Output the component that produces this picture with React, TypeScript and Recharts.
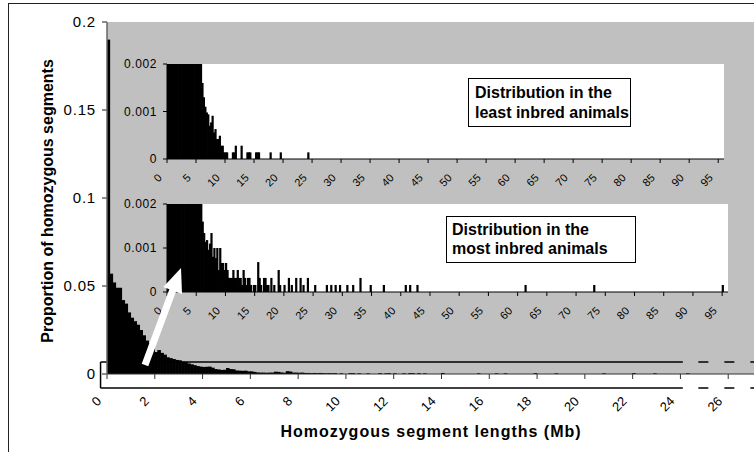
import React from 'react';
import { BarChart, Bar, XAxis, YAxis, CartesianGrid, ReferenceLine } from 'recharts';

// all animals: bin start (Mb) and proportion, bins of 0.125 Mb
const allLengths: number[] = [
  0, 0.125, 0.25, 0.375, 0.5, 0.625, 0.75, 0.875,
  1, 1.125, 1.25, 1.375, 1.5, 1.625, 1.75, 1.875,
  2, 2.125, 2.25, 2.375, 2.5, 2.625, 2.75, 2.875,
  3, 3.125, 3.25, 3.375, 3.5, 3.625, 3.75, 3.875,
  4, 4.125, 4.25, 4.375, 4.5, 4.625, 4.75, 4.875,
  5, 5.125, 5.25, 5.375, 5.5, 5.625, 5.75, 5.875,
  6, 6.125, 6.25, 6.375, 6.5, 6.625, 6.75, 6.875,
  7, 7.125, 7.25, 7.375, 7.5, 7.625, 7.75, 7.875,
  8, 8.125, 8.25, 8.375, 8.5, 8.625, 8.75, 8.875,
  9, 9.125, 9.25, 9.375, 9.5, 9.75,
  10.125, 10.25, 10.5, 10.875, 11.375, 11.625, 11.75, 12,
  12.375, 12.625, 12.75, 13, 13.25, 14, 15.5, 16.25,
  16.625, 17.875, 18.75, 20.75, 22, 22.875, 24.25,
];
const allProportions: number[] = [
  0.19, 0.057, 0.052, 0.049, 0.049, 0.042, 0.04, 0.035,
  0.032, 0.03, 0.028, 0.025, 0.022, 0.019, 0.0175, 0.0145,
  0.0125, 0.0136, 0.012, 0.011, 0.0095, 0.009, 0.0085, 0.008,
  0.0078, 0.007, 0.0068, 0.006, 0.0055, 0.005, 0.0045, 0.0042,
  0.004, 0.0041, 0.0042, 0.0036, 0.0028, 0.0026, 0.0023, 0.0024,
  0.0034, 0.0028, 0.0027, 0.002, 0.0019, 0.0018, 0.0019, 0.0015,
  0.0015, 0.0012, 0.0009, 0.0008, 0.0008, 0.0007, 0.0008, 0.0008,
  0.0013, 0.0012, 0.0009, 0.0007, 0.0016, 0.0014, 0.0008, 0.0008,
  0.0007, 0.0008, 0.0006, 0.0006, 0.0005, 0.0006, 0.0005, 0.0006,
  0.0005, 0.0004, 0.0005, 0.0004, 0.0005, 0.0004,
  0.0005, 0.0005, 0.0004, 0.0004, 0.0005, 0.0004, 0.0005, 0.0004,
  0.0004, 0.0005, 0.0005, 0.0005, 0.0004, 0.0006, 0.0004, 0.0004,
  0.0004, 0.0005, 0.0004, 0.0004, 0.0005, 0.0004, 0.0004,
];

// least inbred animals, bins of 0.25 Mb
const leastLengths: number[] = [
  0, 0.25, 0.5, 0.75, 1, 1.25, 1.5, 1.75, 2, 2.25, 2.5, 2.75,
  3, 3.25, 3.5, 3.75, 4, 4.25, 4.5, 4.75, 5, 5.25, 5.5, 5.75,
  6, 6.25, 6.5, 6.75, 7, 7.25, 7.5, 7.75, 8, 8.25, 8.5, 8.75,
  9, 9.25, 9.5, 9.75, 10, 10.25, 11.25, 11.5, 11.75, 12.75,
  13.75, 14, 14.25, 15.25, 15.5, 15.75, 17.75, 19.5, 24.25,
];
const leastProportions: number[] = [
  0.16, 0.045, 0.04, 0.034, 0.028, 0.023, 0.019, 0.016, 0.013, 0.011, 0.0095, 0.0082,
  0.007, 0.0062, 0.0053, 0.0047, 0.0041, 0.0036, 0.0032, 0.0029, 0.0026, 0.0024, 0.0022, 0.0021,
  0.0016, 0.0013, 0.0011, 0.00098, 0.00094, 0.0007, 0.00077, 0.00091, 0.00056, 0.00063, 0.00042, 0.00042,
  0.00049, 0.00028, 0.00028, 0.00014, 0.00014, 0.00014, 0.00014, 0.00014, 0.00028, 0.00028,
  0.00014, 0.00014, 0.00014, 0.00014, 0.00014, 0.00014, 0.00014, 0.00014, 0.00014,
];

// most inbred animals, bins of 0.25 Mb
const mostLengths: number[] = [
  0, 0.25, 0.5, 0.75, 1, 1.25, 1.5, 1.75, 2, 2.25, 2.5, 2.75,
  3, 3.25, 3.5, 3.75, 4, 4.25, 4.5, 4.75, 5, 5.25, 5.5, 5.75,
  6, 6.25, 6.5, 6.75, 7, 7.25, 7.5, 7.75, 8, 8.25, 8.5, 8.75,
  9, 9.25, 9.5, 9.75, 10, 10.25, 10.5, 10.75, 11, 11.25, 11.5, 11.75,
  12, 12.25, 12.5, 12.75, 13, 13.25, 13.5, 13.75, 14, 14.25, 14.75, 15,
  15.5, 15.75, 16, 16.5, 16.75, 17, 17.25, 17.75, 18.25, 19, 19.25, 20,
  20.75, 21.25, 22, 22.75, 23.25, 24, 25.25, 27.25, 28, 28.75, 29.5, 30.75,
  31.75, 33, 34.75, 37, 40.75, 41.5, 42.75, 61.25, 73, 95,
];
const mostProportions: number[] = [
  0.14, 0.05, 0.045, 0.04, 0.034, 0.029, 0.025, 0.021, 0.018, 0.015, 0.013, 0.011,
  0.0095, 0.0083, 0.0072, 0.0063, 0.0055, 0.0048, 0.0042, 0.0037, 0.0032, 0.0028, 0.0024, 0.0021,
  0.0016, 0.00134, 0.00114, 0.00118, 0.00096, 0.0011, 0.00134, 0.0008, 0.001, 0.00077, 0.001, 0.0005,
  0.001, 0.00066, 0.00066, 0.0005, 0.00066, 0.0005, 0.00032, 0.00032, 0.00032, 0.0005, 0.00032, 0.00032,
  0.0005, 0.00032, 0.00032, 0.00016, 0.0005, 0.00032, 0.00016, 0.00032, 0.00032, 0.00016, 0.00016, 0.00016,
  0.00068, 0.00032, 0.00016, 0.00032, 0.00032, 0.00016, 0.00016, 0.00032, 0.00016, 0.0005, 0.00016, 0.00016,
  0.00032, 0.00016, 0.00032, 0.00032, 0.00016, 0.00032, 0.00016, 0.00016, 0.00016, 0.00016, 0.00016, 0.00016,
  0.00016, 0.00032, 0.00016, 0.00016, 0.00016, 0.00016, 0.00016, 0.00016, 0.00016, 0.00016,
];

const mainTicksX = [0, 2, 4, 6, 8, 10, 12, 14, 16, 18, 20, 22, 24, 26];
const mainTicksY = [0, 0.05, 0.1, 0.15, 0.2];
const insetTicksX = [0, 5, 10, 15, 20, 25, 30, 35, 40, 45, 50, 55, 60, 65, 70, 75, 80, 85, 90, 95];
const insetTicksY = [0, 0.001, 0.002];

const MAIN_BIN = 0.125;
const INSET_BIN = 0.25;

const toRows = (starts: number[], values: number[], bin: number) =>
  starts.map((s, i) => ({ mid: s + bin / 2, value: values[i] }));

const mainData = toRows(allLengths, allProportions, MAIN_BIN);
const leastData = toRows(leastLengths, leastProportions, INSET_BIN);
const mostData = toRows(mostLengths, mostProportions, INSET_BIN);

const FONT = '"Liberation Sans", Arial, sans-serif';

// histogram bars: widen slightly so neighbouring bins touch
const HistBar = (props: any) => {
  const { x, y, width, height, fill } = props;
  if (!height || height <= 0) return null;
  return <rect x={x - 0.45} y={y} width={width + 0.9} height={height} fill={fill} />;
};

const MainXTick = (props: any) => {
  const { x, y, payload } = props;
  const ax = x - 5;
  const ay = y + 21;
  return (
    <text x={ax} y={ay} transform={`rotate(-45 ${ax} ${ay})`} textAnchor="end" fontSize={13} fill="#000">
      {payload.value}
    </text>
  );
};

const InsetXTick = (props: any) => {
  const { x, y, payload } = props;
  const ax = x - 4.5;
  const ay = y + 13.5;
  return (
    <text x={ax} y={ay} transform={`rotate(-45 ${ax} ${ay})`} textAnchor="end" fontSize={11} fill="#000">
      {payload.value}
    </text>
  );
};

const renderYTitle = (props: any) => {
  const vb = props.viewBox || { x: 47, y: 22, width: 60, height: 352 };
  const tx = vb.x + 6;
  const ty = vb.y + vb.height / 2 + 3;
  return (
    <text x={tx} y={ty} transform={`rotate(-90 ${tx} ${ty})`} textAnchor="middle" fontSize={16} fontWeight="bold" fill="#000">
      Proportion of homozygous segments
    </text>
  );
};

const renderXTitle = (props: any) => {
  const vb = props.viewBox || { x: 107, y: 374, width: 669, height: 78 };
  return (
    <text x={vb.x + 324} y={vb.y + 63} textAnchor="middle" fontSize={16} fontWeight="bold" letterSpacing={1} fill="#000">
      Homozygous segment lengths (Mb)
    </text>
  );
};

// zoom box drawn in data units of the main chart
const BOX_TOP = 0.0068;
const BOX_BOTTOM = -0.008;
const BOX_LEFT = -0.27;
const BOX_SOLID_END = 24.1;
const BOX_DASH_START = 24.75;
const BOX_DASH_END = 28;

const Inset = ({ data, left, top, width, plotHeight }: any) => (
  <div style={{ position: 'absolute', left, top }}>
    <BarChart
      width={width}
      height={24 + plotHeight + 40}
      data={data}
      margin={{ top: 24, right: 0, left: 0, bottom: 0 }}
      style={{ fontFamily: FONT }}
    >
      <CartesianGrid fill="#ffffff" horizontal={false} vertical={false} />
      <XAxis
        type="number"
        dataKey="mid"
        domain={[0, 96]}
        ticks={insetTicksX}
        allowDataOverflow
        height={40}
        tickSize={4}
        tick={<InsetXTick />}
        interval={0}
        stroke="#000"
      />
      <YAxis
        type="number"
        domain={[0, 0.002]}
        ticks={insetTicksY}
        allowDataOverflow
        width={67}
        tickSize={4}
        tickMargin={6}
        tick={{ fontSize: 12, fill: '#000', letterSpacing: 0.6 }}
        stroke="#000"
      />
      <Bar dataKey="value" fill="#000" barSize={2} shape={<HistBar />} isAnimationActive={false} />
    </BarChart>
  </div>
);

const ARROW_TAIL = { x: 145, y: 365 };
const ARROW_TIP = { x: 181, y: 268 };

const arrowPoints = () => {
  const dx = ARROW_TIP.x - ARROW_TAIL.x;
  const dy = ARROW_TIP.y - ARROW_TAIL.y;
  const len = Math.hypot(dx, dy);
  const ux = dx / len;
  const uy = dy / len;
  const nx = -uy;
  const ny = ux;
  const shaft = 3.5;
  const head = 10;
  const headLen = 24;
  const neck = { x: ARROW_TIP.x - ux * headLen, y: ARROW_TIP.y - uy * headLen };
  const pts = [
    [ARROW_TAIL.x + nx * shaft, ARROW_TAIL.y + ny * shaft],
    [neck.x + nx * shaft, neck.y + ny * shaft],
    [neck.x + nx * head, neck.y + ny * head],
    [ARROW_TIP.x, ARROW_TIP.y],
    [neck.x - nx * head, neck.y - ny * head],
    [neck.x - nx * shaft, neck.y - ny * shaft],
    [ARROW_TAIL.x - nx * shaft, ARROW_TAIL.y - ny * shaft],
  ];
  return pts.map((p) => p.join(',')).join(' ');
};

const labelBox: React.CSSProperties = {
  position: 'absolute',
  boxSizing: 'border-box',
  border: '1px solid #000',
  background: '#fff',
  fontFamily: FONT,
  fontWeight: 'bold',
  fontSize: 16,
  color: '#000',
};

const App: React.FC = () => (
  <div
    style={{
      position: 'fixed',
      left: 0,
      top: 0,
      width: 754,
      height: 452,
      overflow: 'hidden',
      background: '#fff',
      fontFamily: FONT,
    }}
  >
    <div style={{ position: 'absolute', left: 0, top: 0 }}>
      <BarChart
        width={776}
        height={452}
        data={mainData}
        margin={{ top: 22, right: 0, left: 47, bottom: 0 }}
        style={{ fontFamily: FONT }}
      >
        <CartesianGrid fill="#c0c0c0" horizontal={false} vertical={false} />
        <XAxis
          type="number"
          dataKey="mid"
          domain={[0, 28]}
          ticks={mainTicksX}
          allowDataOverflow
          height={78}
          tickSize={5}
          interval={0}
          tick={<MainXTick />}
          stroke="#333"
          label={renderXTitle}
        />
        <YAxis
          type="number"
          domain={[0, 0.2]}
          ticks={mainTicksY}
          width={60}
          tickSize={5}
          tickMargin={6}
          tick={{ fontSize: 15, fill: '#000', letterSpacing: 0.8 }}
          stroke="#666"
          strokeWidth={1.5}
          label={renderYTitle}
        />
        <Bar dataKey="value" fill="#000" barSize={3} shape={<HistBar />} isAnimationActive={false} />
        <ReferenceLine
          segment={[{ x: BOX_LEFT, y: BOX_TOP }, { x: BOX_SOLID_END, y: BOX_TOP }]}
          stroke="#000"
          strokeWidth={1.5}
          ifOverflow="visible"
        />
        <ReferenceLine
          segment={[{ x: BOX_LEFT, y: BOX_BOTTOM }, { x: BOX_SOLID_END, y: BOX_BOTTOM }]}
          stroke="#000"
          strokeWidth={1.5}
          ifOverflow="visible"
        />
        <ReferenceLine
          segment={[{ x: BOX_LEFT, y: BOX_TOP }, { x: BOX_LEFT, y: BOX_BOTTOM }]}
          stroke="#000"
          strokeWidth={1.5}
          ifOverflow="visible"
        />
        <ReferenceLine
          segment={[{ x: BOX_DASH_START, y: BOX_TOP }, { x: BOX_DASH_END, y: BOX_TOP }]}
          stroke="#000"
          strokeWidth={1.5}
          strokeDasharray="10 16"
          ifOverflow="visible"
        />
        <ReferenceLine
          segment={[{ x: BOX_DASH_START, y: BOX_BOTTOM }, { x: BOX_DASH_END, y: BOX_BOTTOM }]}
          stroke="#000"
          strokeWidth={1.5}
          strokeDasharray="10 16"
          ifOverflow="visible"
        />
      </BarChart>
    </div>

    <Inset data={leastData} left={100} top={40} width={624} plotHeight={95} />
    <Inset data={mostData} left={100} top={180} width={628} plotHeight={88} />

    <div style={{ ...labelBox, left: 468, top: 78, width: 163, height: 49, padding: '4px 0 0 6px', lineHeight: '20px' }}>
      <div>Distribution in the</div>
      <div>least inbred animals</div>
    </div>
    <div style={{ ...labelBox, left: 446, top: 216, width: 190, height: 47, padding: '3px 0 0 5px', lineHeight: '19px' }}>
      <div>Distribution in the</div>
      <div>most inbred animals</div>
    </div>

    <svg width={754} height={452} style={{ position: 'absolute', left: 0, top: 0, pointerEvents: 'none' }}>
      <polygon points={arrowPoints()} fill="#fff" />
    </svg>

    <div
      style={{
        position: 'absolute',
        left: 8,
        top: 3,
        right: -10,
        bottom: -10,
        borderTop: '1px solid #222',
        borderLeft: '1px solid #222',
        pointerEvents: 'none',
      }}
    />
  </div>
);

export default App;
